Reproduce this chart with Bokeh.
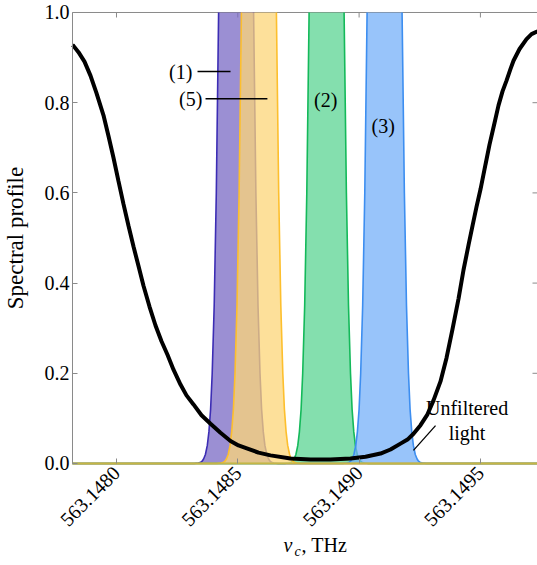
import math
from bokeh.plotting import figure
from bokeh.models import Range1d, FixedTicker, PrintfTickFormatter, Label
from bokeh.embed import file_html
from bokeh.resources import INLINE

# ---------------- data ----------------
X_START = 563.1478186   # left edge of the plotted spectrum
X_END = 563.1497353     # right edge of the plotted spectrum
X_TICKS = [563.1480, 563.1485, 563.1490, 563.1495]
Y_TICKS = [0.0, 0.2, 0.4, 0.6, 0.8, 1.0]

# unfiltered light (black curve)
unf_x = [563.1478186, 563.1478228, 563.1478434, 563.1478681, 563.1478928, 563.1479176,
         563.1479464, 563.1479670, 563.1479876, 563.1480082, 563.1480289, 563.1480495,
         563.1480701, 563.1480907, 563.1481113, 563.1481360, 563.1481608, 563.1481855,
         563.1482102, 563.1482350, 563.1482638, 563.1482885, 563.1483174, 563.1483504,
         563.1483875, 563.1484287, 563.1484699, 563.1485029, 563.1485400, 563.1485853,
         563.1486348, 563.1487172, 563.1487997, 563.1488821, 563.1489645, 563.1490264,
         563.1490882, 563.1491294, 563.1491706, 563.1491995, 563.1492242, 563.1492531,
         563.1492819, 563.1493067, 563.1493355, 563.1493603, 563.1493850, 563.1494097,
         563.1494303, 563.1494509, 563.1494674, 563.1494839, 563.1495004, 563.1495210,
         563.1495375, 563.1495581, 563.1495746, 563.1495911, 563.1496076, 563.1496241,
         563.1496364, 563.1496612, 563.1496900, 563.1497106, 563.1497354]
unf_y = [0.928, 0.926, 0.912, 0.891, 0.860, 0.821,
         0.772, 0.726, 0.678, 0.626, 0.575, 0.527,
         0.481, 0.438, 0.394, 0.348, 0.306, 0.271,
         0.241, 0.208, 0.175, 0.151, 0.131, 0.107,
         0.088, 0.068, 0.050, 0.040, 0.033, 0.024,
         0.018, 0.011, 0.009, 0.009, 0.011, 0.015,
         0.022, 0.031, 0.044, 0.053, 0.066, 0.085,
         0.109, 0.140, 0.182, 0.234, 0.298, 0.365,
         0.429, 0.484, 0.527, 0.569, 0.608, 0.663,
         0.707, 0.755, 0.794, 0.825, 0.849, 0.875,
         0.893, 0.919, 0.941, 0.952, 0.958]

# filtered profiles: edge positions at these levels (clipped at 1.0)
band_levels = [0.0, 0.001, 0.003, 0.006, 0.01, 0.02, 0.04, 0.07, 0.12, 0.2, 0.35, 0.6, 1.0]

band1_left = [563.1483199, 563.1483372, 563.1483475, 563.1483541, 563.1483590, 563.1483665, 563.1483743,
              563.1483809, 563.1483879, 563.1483945, 563.1484027, 563.1484114, 563.1484209]
band1_right = [563.1486661, 563.1486488, 563.1486385, 563.1486319, 563.1486270, 563.1486195, 563.1486117,
               563.1486051, 563.1485981, 563.1485915, 563.1485833, 563.1485746, 563.1485651]

band5_left = [563.1484139, 563.1484312, 563.1484415, 563.1484481, 563.1484530, 563.1484605, 563.1484683,
              563.1484749, 563.1484819, 563.1484885, 563.1484967, 563.1485054, 563.1485149]
band5_right = [563.1487601, 563.1487428, 563.1487325, 563.1487259, 563.1487210, 563.1487135, 563.1487057,
               563.1486991, 563.1486921, 563.1486855, 563.1486773, 563.1486686, 563.1486591]

band2_left = [563.1486929, 563.1487102, 563.1487205, 563.1487271, 563.1487320, 563.1487395, 563.1487473,
              563.1487539, 563.1487609, 563.1487675, 563.1487757, 563.1487844, 563.1487939]
band2_right = [563.1490391, 563.1490218, 563.1490115, 563.1490049, 563.1490000, 563.1489925, 563.1489847,
               563.1489781, 563.1489711, 563.1489645, 563.1489563, 563.1489476, 563.1489381]

band3_left = [563.1489319, 563.1489492, 563.1489595, 563.1489661, 563.1489710, 563.1489785, 563.1489863,
              563.1489929, 563.1489999, 563.1490065, 563.1490147, 563.1490234, 563.1490329]
band3_right = [563.1492781, 563.1492608, 563.1492505, 563.1492439, 563.1492390, 563.1492315, 563.1492237,
               563.1492171, 563.1492101, 563.1492035, 563.1491953, 563.1491866, 563.1491771]

# profile (4): zero everywhere
band4_x = [X_START, X_END]
band4_y = [0.0, 0.0]

FONT = "Liberation Serif"
AXC = "#8a8a8a"

# the frame covers the whole page; axes are drawn at fixed data locations
p = figure(width=537, height=565, output_backend="svg", toolbar_location=None,
           x_range=Range1d(563.1475219, X_END), y_range=Range1d(-0.2262, 1.0266),
           min_border_left=0, min_border_right=0, min_border_top=0,
           min_border_bottom=0)
p.outline_line_color = None
p.grid.visible = False
p.background_fill_color = "white"
p.border_fill_color = "white"


def style_axis(ax):
    ax.axis_line_color = AXC
    ax.axis_line_width = 1
    ax.major_tick_line_color = AXC
    ax.major_tick_in = 5
    ax.major_tick_out = 0
    ax.minor_tick_line_color = None
    ax.major_label_text_font = FONT
    ax.major_label_text_color = "black"
    ax.major_label_text_font_size = "20px"


xa = p.xaxis[0]
xa.ticker = FixedTicker(ticks=X_TICKS)
xa.formatter = PrintfTickFormatter(format="%.4f")
style_axis(xa)
xa.fixed_location = 0.0
xa.axis_line_color = None
xa.major_label_orientation = math.pi / 4
xa.major_label_standoff = 6

ya = p.yaxis[0]
ya.ticker = FixedTicker(ticks=Y_TICKS)
ya.formatter = PrintfTickFormatter(format="%.1f")
style_axis(ya)
ya.fixed_location = X_START
ya.bounds = (0.0, 1.0)
ya.major_label_standoff = 3
ya.axis_label = "Spectral profile"
ya.axis_label_text_font = FONT
ya.axis_label_text_font_size = "23px"
ya.axis_label_text_font_style = "normal"
ya.axis_label_text_color = "black"
ya.axis_label_standoff = 14

# top edge of the frame with inner ticks; inner ticks on the right edge
p.line([X_START, X_END], [1.0, 1.0], line_color=AXC, line_width=1)
p.ray(x=X_TICKS, y=[1.0] * len(X_TICKS), length=5, length_units="screen",
      angle=-math.pi / 2, line_color=AXC, line_width=1)
p.ray(x=[X_END] * len(Y_TICKS), y=Y_TICKS, length=5, length_units="screen",
      angle=math.pi, line_color=AXC, line_width=1)


def draw_band(left, right, fill, edge):
    px = list(left) + list(reversed(right))
    py = list(band_levels) + list(reversed(band_levels))
    p.patch(px, py, fill_color=fill, fill_alpha=0.75, line_color=None)
    lx = [X_START] + list(left) + [float("nan")] + list(reversed(right)) + [X_END]
    ly = [0.0] + list(band_levels) + [float("nan")] + list(reversed(band_levels)) + [0.0]
    p.line(lx, ly, line_color=edge, line_width=1.6)


draw_band(band1_left, band1_right, "#7a6ac4", "#3c2db4")
draw_band(band2_left, band2_right, "#5bd493", "#14b95a")
draw_band(band3_left, band3_right, "#76b0f8", "#3d8ef0")
draw_band(band5_left, band5_right, "#fcd678", "#fdbf2d")
p.line(band4_x, band4_y, line_color="#c6b545", line_width=2)

p.line(unf_x, unf_y, line_color="black", line_width=4)


def lab(x, y, text, align="center", size="20px", style="normal"):
    p.add_layout(Label(x=x, y=y, text=text, text_font=FONT, text_font_size=size,
                       text_font_style=style, text_align=align,
                       text_baseline="middle", text_color="black"))


lab(563.148313, 0.869, "(1)", align="right")
p.segment(x0=[563.148334], y0=[0.869], x1=[563.148470], y1=[0.869],
          line_color="black", line_width=1.5)
lab(563.148354, 0.809, "(5)", align="right")
p.segment(x0=[563.148367], y0=[0.809], x1=[563.148622], y1=[0.809],
          line_color="black", line_width=1.5)
lab(563.148862, 0.805, "(2)")
lab(563.149099, 0.749, "(3)")
lab(563.149445, 0.122, "Unfiltered")
lab(563.149445, 0.0665, "light")
p.segment(x0=[563.149224], y0=[0.029], x1=[563.149315], y1=[0.084],
          line_color="black", line_width=1.3)

# x-axis title: nu_c, THz
lab(563.148688, -0.1818, "\u03bd", align="left", style="italic")
lab(563.148734, -0.195, "c", align="left", size="14px", style="italic")
lab(563.148763, -0.1818, ", THz", align="left")

open("out.html", "w").write(file_html(p, INLINE))
